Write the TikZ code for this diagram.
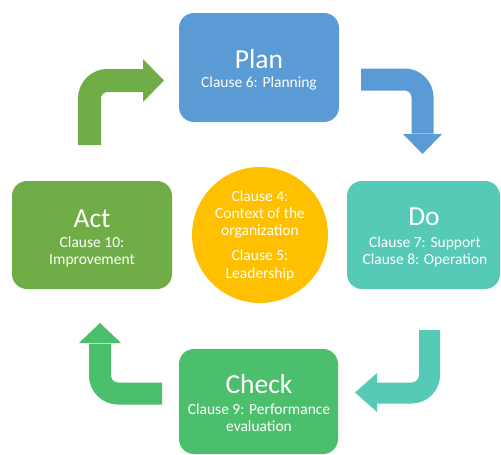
\documentclass[tikz,border=0pt]{standalone}
\usepackage{fontspec}
\setmainfont{Carlito}
\definecolor{planblue}{HTML}{5B9BD5}
\definecolor{doteal}{HTML}{56CAB6}
\definecolor{checkgreen}{HTML}{4BBF6B}
\definecolor{actgreen}{HTML}{70AD47}
\definecolor{coreyellow}{HTML}{FFC000}
\begin{document}
\begin{tikzpicture}[x=1pt,y=-1pt,
  title/.style={anchor=base, text=white, font=\fontsize{27.5}{30}\selectfont, inner sep=0pt},
  sub/.style={anchor=base, text=white, font=\fontsize{15.5}{18}\selectfont, inner sep=0pt},
  shaft/.style={line width=#1, rounded corners=18pt, line cap=butt}]
\useasboundingbox (0,0) rectangle (501,455);
% boxes
\fill[planblue, rounded corners=15pt] (179,13) rectangle (339,122);
\node[inner sep=0pt, minimum width=160pt, minimum height=109pt] (plan) at (259,67.5) {};
\fill[doteal, rounded corners=15pt] (347,181) rectangle (500,289);
\node[inner sep=0pt, minimum width=153pt, minimum height=108pt] (do) at (423.5,235) {};
\fill[actgreen, rounded corners=15pt] (12,181) rectangle (172,289);
\node[inner sep=0pt, minimum width=160pt, minimum height=108pt] (act) at (92,235) {};
\fill[checkgreen, rounded corners=15pt] (179,349) rectangle (338,454);
\node[inner sep=0pt, minimum width=159pt, minimum height=105pt] (check) at (258.5,401.5) {};
\node[circle, fill=coreyellow, minimum size=136pt, inner sep=0pt] (core) at (260,235) {};
% texts
\node[title] (plant) at (259,68) {Plan};
\node[sub] (plans) at (259,87) {Clause 6: Planning};
\node[title] (dot) at (424,225) {Do};
\node[sub] (dos1) at (425,247) {Clause 7: Support};
\node[sub] (dos2) at (425,264) {Clause 8: Operation};
\node[title] (actt) at (92,227) {Act};
\node[sub] (acts1) at (92,247) {Clause 10:};
\node[sub] (acts2) at (92,264) {Improvement};
\node[title] (checkt) at (259,393) {Check};
\node[sub] (checks1) at (259,414) {Clause 9: Performance};
\node[sub] (checks2) at (259,431) {evaluation};
\node[sub] (c1) at (260,201) {Clause 4:};
\node[sub] (c2) at (260,218) {Context of the};
\node[sub] (c3) at (260,235) {organization};
\node[sub] (c4) at (260,260) {Clause 5:};
\node[sub] (c5) at (260,278) {Leadership};
% arrow act -> plan
\coordinate (a1s) at (89.5,145);
\coordinate (a1b) at (143,80.5);
\draw[actgreen, shaft=23pt] (a1s) |- ([xshift=0.5pt]a1b);
\fill[actgreen] (143,59) -- (164,80.5) -- (143,102) -- cycle;
% arrow plan -> do
\coordinate (a2s) at (361,79.5);
\coordinate (a2b) at (422.5,134);
\draw[planblue, shaft=22pt] (a2s) -| ([yshift=0.5pt]a2b);
\fill[planblue] (403,134) -- (442,134) -- (422.5,154) -- cycle;
% arrow do -> check
\coordinate (a3s) at (429.5,330);
\coordinate (a3b) at (377,393);
\draw[doteal, shaft=21pt] (a3s) |- ([xshift=-0.5pt]a3b);
\fill[doteal] (377,373) -- (377,412) -- (355,392.5) -- cycle;
% arrow check -> act
\coordinate (a4s) at (162,393.5);
\coordinate (a4b) at (100,343);
\draw[checkgreen, shaft=22pt] (a4s) -| ([yshift=-0.5pt]a4b);
\fill[checkgreen] (79,343) -- (121,343) -- (100,323) -- cycle;
\end{tikzpicture}
\end{document}
